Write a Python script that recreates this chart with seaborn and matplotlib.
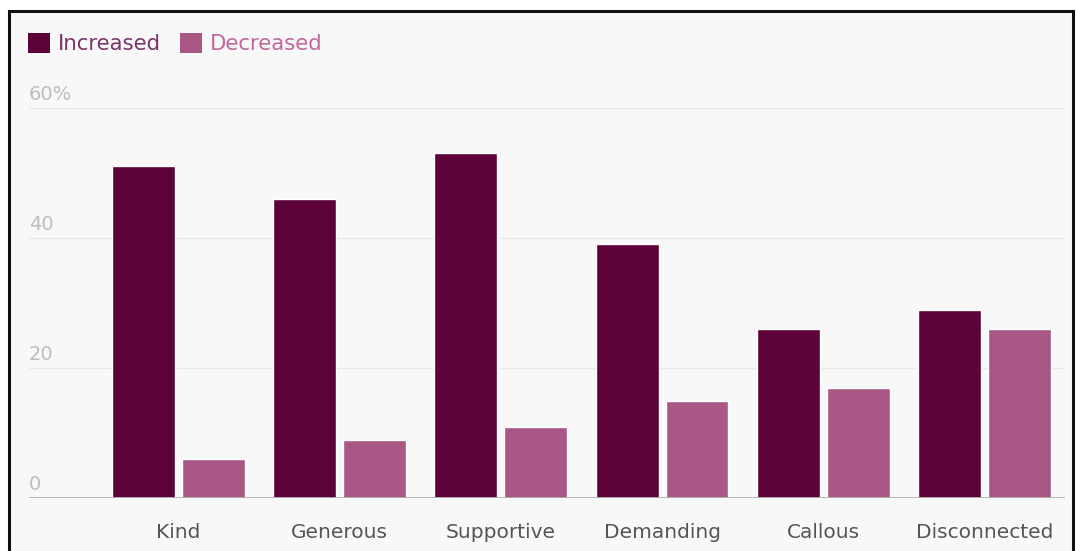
import matplotlib
matplotlib.use("Agg")
import matplotlib.pyplot as plt
import matplotlib.patches as mpatches
import matplotlib.transforms as mtransforms
import seaborn as sns
import pandas as pd

categories = ["Kind", "Generous", "Supportive", "Demanding", "Callous", "Disconnected"]
increased = [51, 46, 53, 39, 26, 29]
decreased = [6, 9, 11, 15, 17, 26]
series_names = ["Increased", "Decreased"]
y_ticks = [0, 20, 40, 60]
y_tick_labels = ["0", "20", "40", "60%"]

bar_colors = ["#5c0238", "#a95785"]
legend_text_colors = ["#7a3468", "#c0679c"]

df = pd.DataFrame({
    "trait": categories * 2,
    "value": increased + decreased,
    "change": [series_names[0]] * len(categories) + [series_names[1]] * len(categories),
})

sns.set_theme(style="white")
plt.rcParams["font.family"] = ["DejaVu Sans"]

W, H = 1076, 551
fig = plt.figure(figsize=(W / 100, H / 100), dpi=100)
fig.patch.set_facecolor("white")

# framed background
frame = mpatches.Rectangle((9 / W, -0.05), (1073 - 9) / W, 1.05 - 11 / H,
                           transform=fig.transFigure, facecolor="#f8f8f8",
                           edgecolor="#111111", linewidth=2.2, zorder=-5)
fig.patches.append(frame)

ax = fig.add_axes([29 / W, 53 / H, (1065 - 29) / W, 390 / H])
ax.set_facecolor("none")
ax.set_zorder(2)

sns.barplot(data=df, x="trait", y="value", hue="change", order=categories,
            hue_order=series_names, palette=bar_colors, saturation=1,
            width=0.868, gap=0.1, legend=False, ax=ax, zorder=3)

ax.set_xlim(-0.927, 5.5)
ax.set_ylim(0, 60)
for s in ax.spines.values():
    s.set_visible(False)
ax.set_xlabel("")
ax.set_ylabel("")
ax.set_yticks([])

# gridlines and baseline
for t in y_ticks:
    if t == 0:
        ax.axhline(0, color="#b0b0b0", lw=1.3, zorder=4)
    else:
        ax.axhline(t, color="#e9e9e9", lw=1.0, zorder=1)

offset = mtransforms.ScaledTranslation(0, 4 / 100, fig.dpi_scale_trans)
trans = mtransforms.blended_transform_factory(ax.transAxes, ax.transData) + offset
for t, lab in zip(y_ticks, y_tick_labels):
    ax.text(0.0, t, lab, transform=trans, ha="left", va="bottom",
            fontsize=14, color="#bdbdbd", clip_on=False)

ax.tick_params(axis="x", length=0, pad=18, labelsize=14.5, labelcolor="#555555")

handles = [mpatches.Patch(facecolor=c, edgecolor="none") for c in bar_colors]
leg = fig.legend(handles, series_names, loc="upper left",
                 bbox_to_anchor=(28 / W, 1 - 33 / H), ncol=2, frameon=False,
                 fontsize=15.3, handlelength=1.05, handleheight=1.05,
                 handletextpad=0.35, columnspacing=0.9, borderpad=0,
                 borderaxespad=0)
for txt, c in zip(leg.get_texts(), legend_text_colors):
    txt.set_color(c)

fig.savefig("out.png", dpi=100, facecolor="white")
